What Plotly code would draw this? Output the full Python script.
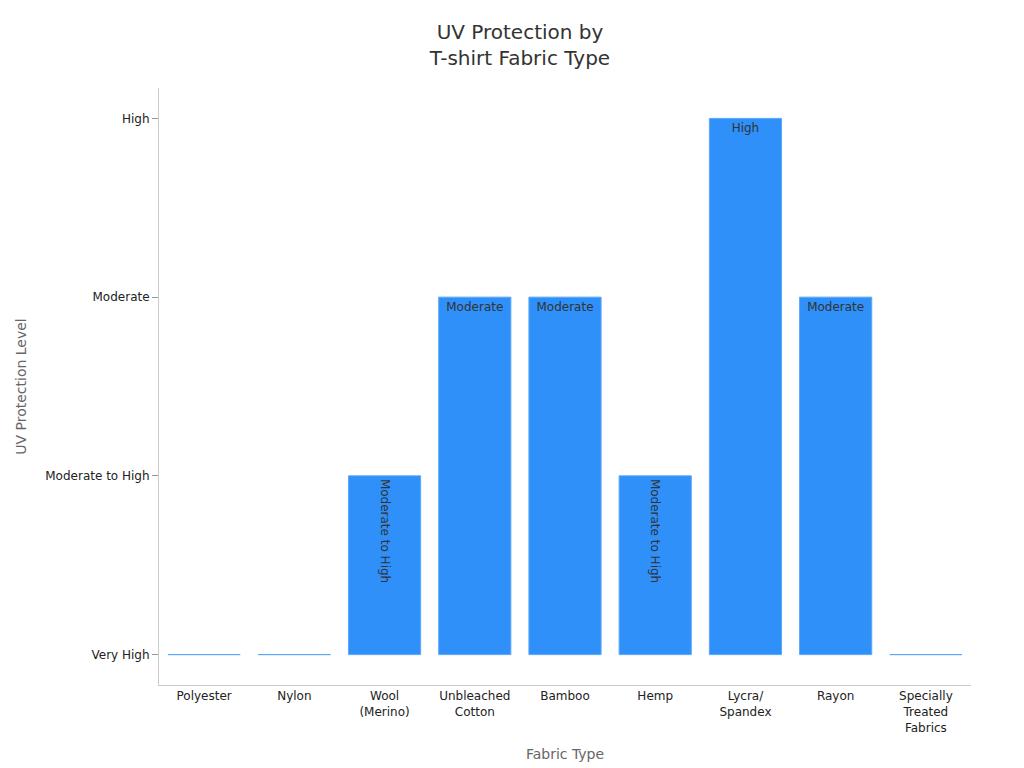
import plotly.graph_objects as go

fabrics = ["Polyester", "Nylon", "Wool<br>(Merino)", "Unbleached<br>Cotton", "Bamboo", "Hemp",
           "Lycra/<br>Spandex", "Rayon", "Specially<br>Treated<br>Fabrics"]
levels = ["Very High", "Very High", "Moderate to High", "Moderate", "Moderate", "Moderate to High",
          "High", "Moderate", "Very High"]
level_order = ["Very High", "Moderate to High", "Moderate", "High"]
labels = ["" if l == "Very High" else l for l in levels]

fig = go.Figure(go.Bar(
    x=fabrics, y=levels, text=labels, textposition="inside", insidetextanchor="end",
    textfont=dict(color="#333333", size=12),
    marker=dict(color="#2E90F8", line=dict(color="#5aa8f8", width=1)),
))
fig.update_layout(
    width=1024, height=768,
    title=dict(text="UV Protection by<br>T-shirt Fabric Type", x=0.5, xanchor="center", y=0.96,
               font=dict(size=20, color="#333333")),
    font=dict(family="DejaVu Sans", size=12, color="#222222"),
    plot_bgcolor="white", paper_bgcolor="white",
    margin=dict(l=148, r=61, t=80, b=91),
    bargap=0.2, showlegend=False,
    xaxis=dict(title=dict(text="Fabric Type", font=dict(size=14, color="#666666")),
               showline=True, linecolor="#cccccc", ticks="", showgrid=False),
    yaxis=dict(title=dict(text="UV Protection Level", font=dict(size=14, color="#666666")),
               type="category", categoryorder="array", categoryarray=level_order,
               range=[-0.17, 3.17], showline=True, linecolor="#cccccc",
               ticks="outside", tickcolor="#999999", ticklen=6, showgrid=False),
)
fig.write_html("out.html")
